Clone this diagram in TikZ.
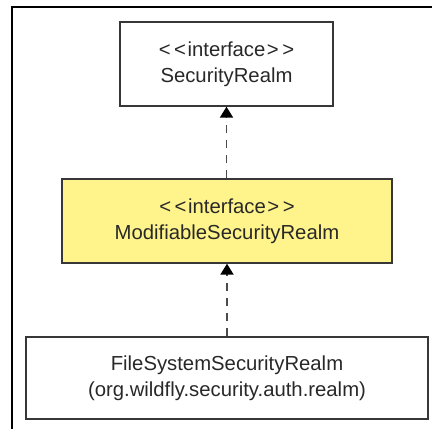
\documentclass[tikz,border=0pt]{standalone}
\usepackage{fontspec}
\setmainfont{Liberation Sans}
\usetikzlibrary{arrows.meta}
\definecolor{txt}{RGB}{40,40,40}
\definecolor{edge}{RGB}{55,55,55}
\definecolor{ylw}{RGB}{255,244,140}
\definecolor{dash}{RGB}{75,75,75}
\newcommand{\lt}{\textless\kern3.5bp\textless\kern1.5bp}
\newcommand{\gt}{\kern1.5bp\textgreater\kern3.5bp\textgreater}
\tikzset{
  classbox/.style={draw=edge, line width=1.4bp, align=center, inner sep=0pt,
    text=txt, font=\fontsize{20.3bp}{26bp}\selectfont},
  realize/.style={draw=dash, line width=1.9bp, dash pattern=on 8bp off 7bp,
    -{Triangle[width=13bp,length=11bp,color=black,fill=black]}}
}
\begin{document}
\begin{tikzpicture}[x=1bp,y=-1bp]
\useasboundingbox (0,0) rectangle (432,429);
\draw[black, line width=1.6bp] (12,429) -- (12,7) -- (432,7);
\node[classbox, minimum width=213bp, minimum height=84bp] (sr) at (226.5,64)
  {\lt interface\gt\\SecurityRealm};
\node[classbox, fill=ylw, minimum width=330bp, minimum height=84bp] (msr) at (227,221)
  {\lt interface\gt\\ModifiableSecurityRealm};
\node[classbox, minimum width=402bp, minimum height=82bp] (fsr) at (227,378)
  {FileSystemSecurityRealm\\(org.wildfly.security.auth.realm)};
\draw[realize] (msr.north -| sr.south) -- (sr.south);
\draw[realize] (fsr.north -| msr.south) -- (msr.south);
\end{tikzpicture}
\end{document}
